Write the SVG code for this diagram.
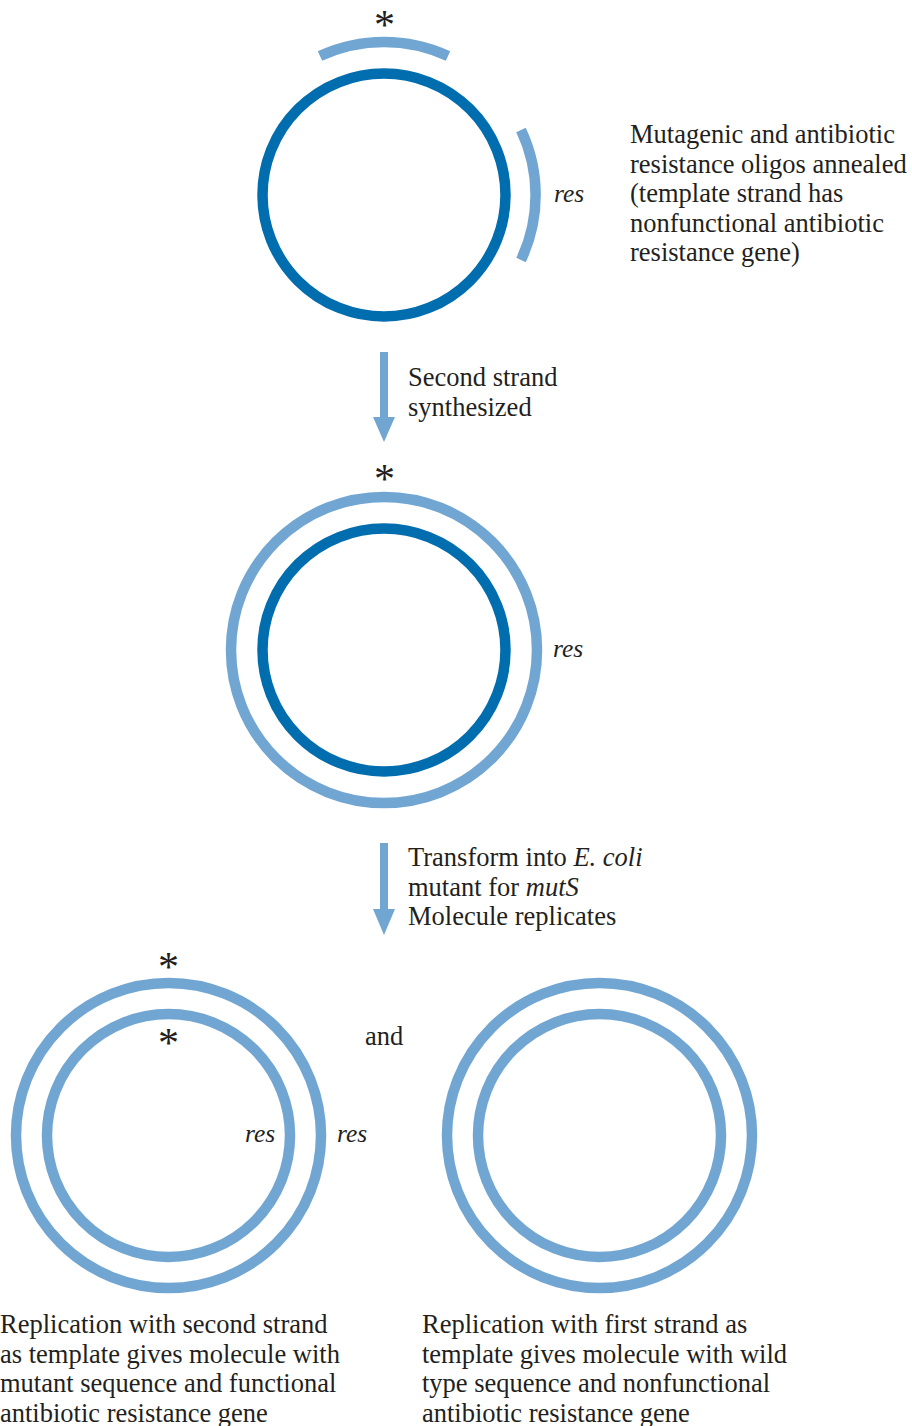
<svg xmlns="http://www.w3.org/2000/svg" width="912" height="1426" viewBox="0 0 912 1426">
<style>
.dark{fill:none;stroke:#006DAE;stroke-width:10.5}
.light{fill:none;stroke:#72A6D2;stroke-width:10.5}
.lbl{font-family:"Liberation Serif","Times New Roman",serif;font-size:26.5px;fill:#231F20}
.it{font-style:italic}
.res{font-family:"Liberation Serif","Times New Roman",serif;font-size:25.5px;font-style:italic;fill:#231F20}
.ast{font-family:"Liberation Serif","Times New Roman",serif;font-size:42px;fill:#231F20;text-anchor:middle}
.arrow{fill:#72A6D2}
</style>
<rect width="912" height="1426" fill="#fff"/>
<g id="step1">
<circle class="dark" cx="384" cy="195" r="121.5"/>
<path class="light" d="M320,56 A153,153 0 0 1 448,56"/>
<path class="light" d="M521,130 A152,152 0 0 1 521,260"/>
<text class="ast" x="384.5" y="38.5">*</text>
<text class="res" x="554" y="202">res</text>
<text class="lbl"><tspan x="630" y="143">Mutagenic and antibiotic</tspan><tspan x="630" y="172.5">resistance oligos annealed</tspan><tspan x="630" y="202">(template strand has</tspan><tspan x="630" y="231.5">nonfunctional antibiotic</tspan><tspan x="630" y="261">resistance gene)</tspan></text>
</g>
<g id="step2">
<circle class="light" cx="384" cy="650" r="153"/>
<circle class="dark" cx="384" cy="650" r="121.5"/>
<text class="ast" x="384.5" y="492.5">*</text>
<text class="res" x="553" y="657">res</text>
</g>
<g id="step3a">
<circle class="light" cx="168.5" cy="1135.5" r="152.5"/>
<circle class="light" cx="168.5" cy="1135.5" r="121.5"/>
<text class="ast" x="168.5" y="980.5">*</text>
<text class="ast" x="168.5" y="1056.5">*</text>
<text class="res" x="245" y="1142">res</text>
<text class="res" x="337" y="1142">res</text>
<text class="lbl"><tspan x="0" y="1333">Replication with second strand</tspan><tspan x="0" y="1362.5">as template gives molecule with</tspan><tspan x="0" y="1392">mutant sequence and functional</tspan><tspan x="0" y="1421.5">antibiotic resistance gene</tspan></text>
</g>
<g id="and"><text class="lbl" x="365" y="1045">and</text></g>
<g id="step3b">
<circle class="light" cx="599.5" cy="1135.5" r="152.5"/>
<circle class="light" cx="599.5" cy="1135.5" r="121.5"/>
<text class="lbl"><tspan x="422" y="1333">Replication with first strand as</tspan><tspan x="422" y="1362.5">template gives molecule with wild</tspan><tspan x="422" y="1392">type sequence and nonfunctional</tspan><tspan x="422" y="1421.5">antibiotic resistance gene</tspan></text>
</g>
<g id="connectors">
<path class="arrow" d="M380,352 H388 V417 H395 L384,442 L373,417 H380 Z"/>
<path class="arrow" d="M380,843 H388 V909 H395 L384,935 L373,909 H380 Z"/>
<text class="lbl"><tspan x="408" y="386">Second strand</tspan><tspan x="408" y="415.5">synthesized</tspan></text>
<text class="lbl"><tspan x="408" y="866">Transform into <tspan class="it">E. coli</tspan></tspan><tspan x="408" y="895.5">mutant for <tspan class="it">mutS</tspan></tspan><tspan x="408" y="925">Molecule replicates</tspan></text>
</g>
</svg>
